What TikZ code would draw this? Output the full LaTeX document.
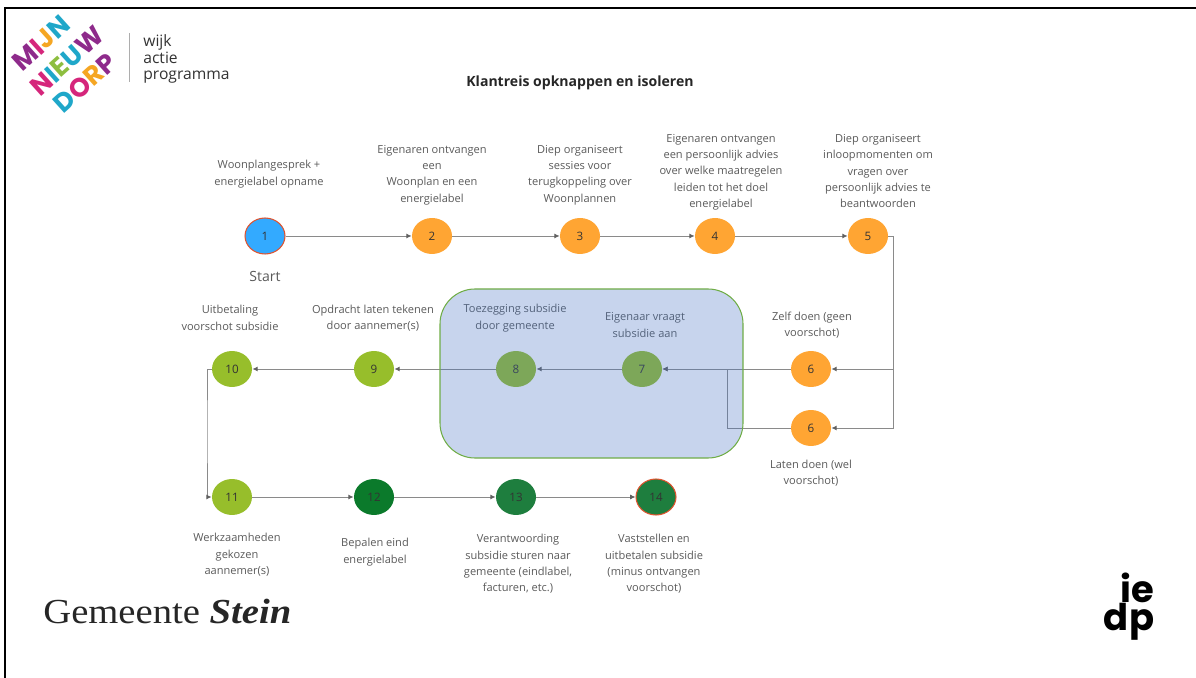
\documentclass[tikz,border=0pt]{standalone}
\usepackage{fontspec}
\setmainfont{Open Sans}
\newfontfamily\logofont{Poppins}
\newfontfamily\gemfont[FakeStretch=1.1]{Liberation Serif}
\usepackage{tikz}
\usetikzlibrary{shapes,arrows.meta}
\usetikzlibrary{calc}
\usepackage{xcolor}
\definecolor{stapblauw}{HTML}{33AAFF}
\definecolor{staporanje}{HTML}{FFA533}
\definecolor{staplime}{HTML}{97BE2B}
\definecolor{stapgroen}{HTML}{0B7A2B}
\definecolor{stapmidden}{HTML}{1E7E3E}
\definecolor{randrood}{HTML}{E0532E}
\definecolor{lijngrijs}{HTML}{8A8A8A}
\definecolor{tipgrijs}{HTML}{606060}
\definecolor{tekstgrijs}{HTML}{5A5A5A}
\definecolor{vlakblauw}{HTML}{4472C4}
\definecolor{vlakrand}{HTML}{70AD47}
\definecolor{lpaars}{HTML}{8E2A8B}
\definecolor{lroze}{HTML}{D5267B}
\definecolor{lblauw}{HTML}{1FA7C9}
\definecolor{loranje}{HTML}{F5A623}
\definecolor{lgroen}{HTML}{8DBE3F}
\tikzset{
  stap/.style={ellipse,minimum width=0.8cm,minimum height=0.72cm,inner sep=0pt,font=\fontsize{6.6}{8}\selectfont,text=black!80},
  opm/.style={align=center,text=tekstgrijs,inner sep=0pt,font=\fontsize{6.3}{9.3}\selectfont},
  pijl/.style={-{Latex[length=3pt,width=2.8pt,color=tipgrijs]},draw=lijngrijs,line width=0.5pt},
  logoletter/.style={rotate=42,inner sep=0pt,font=\logofont\bfseries\fontsize{15}{15}\selectfont}
}
\begin{document}
\begin{tikzpicture}[x=0.02cm,y=-0.02cm]
\useasboundingbox (0,0) rectangle (1196,678);
\draw[line width=1.2pt] (5,678) -- (5,8) -- (1196,8);

% logo and title
\node[logoletter] (mijn) at (41,43) {\color{lpaars}M\color{lroze}I\color{loranje}J\color{lblauw}N};
\node[logoletter] (nieuw) at (67,61) {\color{lroze}N\color{lblauw}I\color{lgroen}E\color{lblauw}U\color{lpaars}W};
\node[logoletter] (dorp) at (85,83) {\color{lblauw}D\color{lroze}O\color{loranje}R\color{lpaars}P};
\draw[lijngrijs!70,line width=0.5pt] (129,33) -- (129,82);
\node[anchor=west,inner sep=0pt,font=\fontsize{8.9}{9.4}\selectfont,align=left,text=black!80] (wap) at (143,59) {wijk\\actie\\programma};
\node[inner sep=0pt,font=\bfseries\fontsize{8}{9}\selectfont,text=black!85] (titel) at (580,83) {Klantreis opknappen en isoleren};

% the steps
\foreach \naam/\x/\y/\kleur/\tekst in {
  s2/432/236/staporanje/2,s3/580/236/staporanje/3,s4/715/236/staporanje/4,s5/868/236/staporanje/5,
  s6a/811/369/staporanje/6,s6b/811/428/staporanje/6,
  s7/642/369/staplime/7,s8/516/369/staplime/8,s9/374/369/staplime/9,s10/232/369/staplime/10,
  s11/232/497/staplime/11,s12/374/497/stapgroen/12,s13/516/497/stapmidden/13}
    \node[stap,fill=\kleur] (\naam) at (\x,\y) {\tekst};
\node[stap,fill=stapblauw,draw=randrood,line width=0.6pt] (s1) at (265,236) {1};
\node[stap,fill=stapmidden,draw=randrood,line width=0.6pt] (s14) at (656,497) {14};

\coordinate (kr) at (893,300);
\coordinate (kl) at (727,400);
\coordinate (kw) at (207,430);

\draw[pijl] (s1) -- (s2);
\draw[pijl] (s2) -- (s3);
\draw[pijl] (s3) -- (s4);
\draw[pijl] (s4) -- (s5);
\draw[pijl] (s5.east) -| (kr) |- (s6a.east);
\draw[pijl] (s5.east) -| (kr) |- (s6b.east);
\draw[pijl] (s6a) -- (s7);
\draw[pijl] (s6b.west) -| (kl) |- (s7.east);
\draw[pijl] (s7) -- (s8);
\draw[pijl] (s8) -- (s9);
\draw[pijl] (s9) -- (s10);
\draw[pijl] (s10.west) -| (kw) |- (s11.west);
\draw[pijl] (s11) -- (s12);
\draw[pijl] (s12) -- (s13);
\draw[pijl] (s13) -- (s14);

% labels
\node[opm] (t1) at (269,174) {Woonplangesprek +\\energielabel opname};
\node[inner sep=0pt,text=tekstgrijs,font=\fontsize{8}{9}\selectfont] (start) at (265,276) {Start};
\node[opm] (t2) at (432,175) {Eigenaren ontvangen\\een\\Woonplan en een\\energielabel};
\node[opm] (t3) at (580,175) {Diep organiseert\\sessies voor\\terugkoppeling over\\Woonplannen};
\node[opm] (t4) at (721,172) {Eigenaren ontvangen\\een persoonlijk advies\\over welke maatregelen\\leiden tot het doel\\energielabel};
\node[opm] (t5) at (878,171) {Diep organiseert\\inloopmomenten om\\vragen over\\persoonlijk advies te\\beantwoorden};
\node[opm] (t6a) at (812,325) {Zelf doen (geen\\voorschot)};
\node[opm] (t6b) at (811,473) {Laten doen (wel\\voorschot)};
\node[opm] (t7) at (645,325) {Eigenaar vraagt\\subsidie aan};
\node[opm] (t8) at (515,318) {Toezegging subsidie\\door gemeente};
\node[opm] (t9) at (373,318) {Opdracht laten tekenen\\door aannemer(s)};
\node[opm] (t10) at (230,318) {Uitbetaling\\voorschot subsidie};
\node[opm] (t11) at (237,555) {Werkzaamheden\\gekozen\\aannemer(s)};
\node[opm] (t12) at (375,552) {Bepalen eind\\energielabel};
\node[opm] (t13) at (518,564) {Verantwoording\\subsidie sturen naar\\gemeente (eindlabel,\\facturen, etc.)};
\node[opm] (t14) at (654,564) {Vaststellen en\\uitbetalen subsidie\\(minus ontvangen\\voorschot)};

% the blue area lies over the steps 7 and 8
\draw[fill=vlakblauw,fill opacity=0.3,draw=vlakrand,rounded corners=0.7cm,line width=0.6pt] (440,289) rectangle (743,458);

% bottom logos
\node[anchor=base west,inner sep=0pt,text=black!85,font=\gemfont\fontsize{20}{24}\selectfont] (gemeente) at (43,623) {Gemeente \textbf{\textit{Stein}}};
\node[anchor=base,inner sep=0pt,font=\logofont\bfseries\fontsize{21}{21}\selectfont] (ie) at (1137,602) {ie};
\node[anchor=base,inner sep=0pt,font=\logofont\bfseries\fontsize{21}{21}\selectfont] (dp) at (1129,630) {dp};
\end{tikzpicture}
\end{document}
